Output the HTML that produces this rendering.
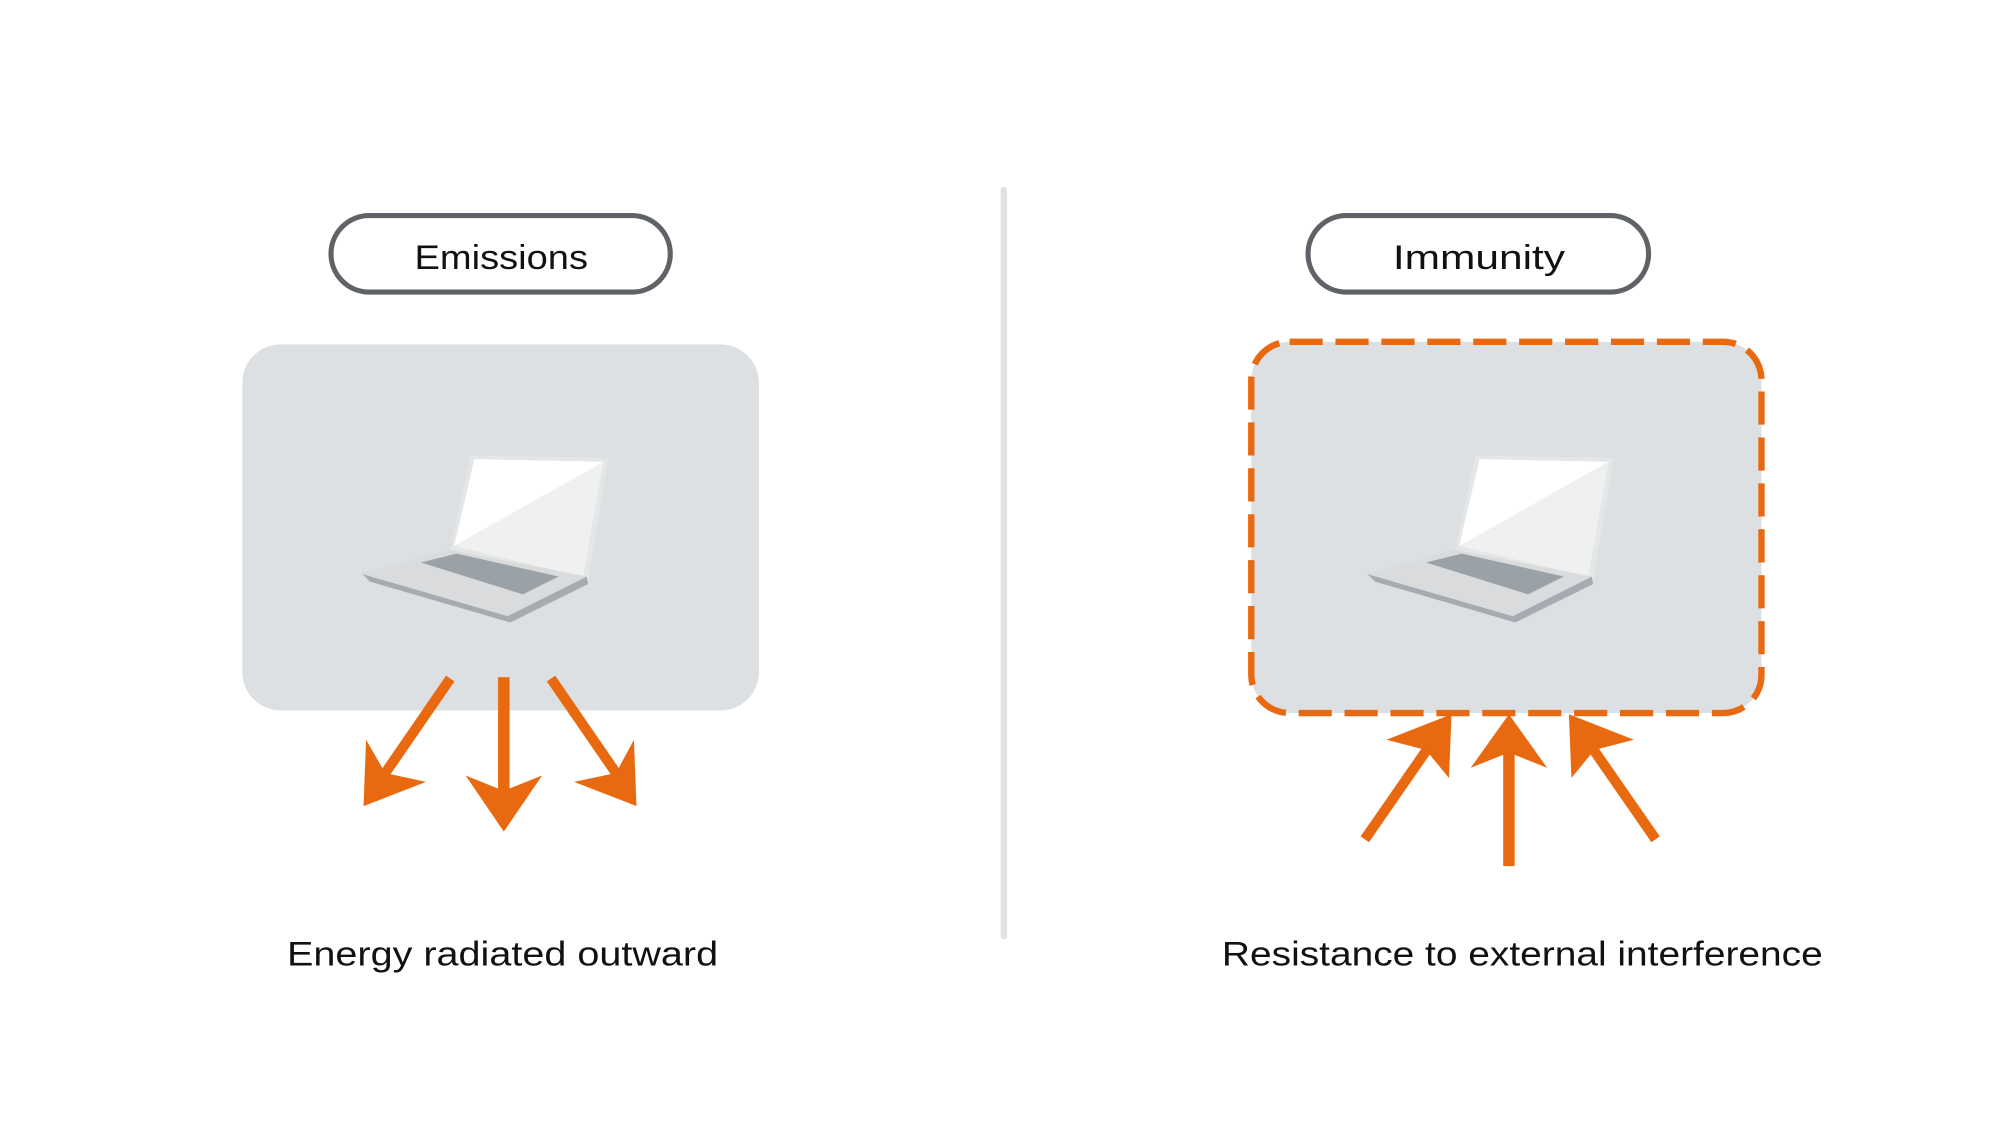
<!DOCTYPE html>
<html><head><meta charset="utf-8"><style>
html,body{margin:0;padding:0;background:#fff;}
svg{display:block;}
text{font-family:"Liberation Sans",sans-serif;fill:#111;}
</style></head><body>
<svg width="2000" height="1125" viewBox="0 0 1568 882" preserveAspectRatio="xMinYMin meet" xmlns="http://www.w3.org/2000/svg">
<defs>
<g id="laptop">
  <polygon points="369,357 477,359 461,456 353,431" fill="#e4e6e7"/>
  <polygon points="372,360 473,362 457,452 356,428" fill="#ffffff"/>
  <polygon points="473,362 457,452 356,428" fill="#eff0f0"/>
  <polygon points="284,450 290,456 400,488 461,458 460,452 398,483" fill="#a5abb0"/>
  <polygon points="284,450 352,431 460,452 398,483" fill="#d9dbdd"/>
  <polygon points="330,441 358,434 438,452 410,466" fill="#9aa2a7"/>
</g>
</defs>
<rect x="259.5" y="169" width="266" height="60" rx="30" fill="#fff" stroke="#5f6368" stroke-width="4"/>
<text x="325" y="211" font-size="27" textLength="136" lengthAdjust="spacingAndGlyphs">Emissions</text>
<rect x="1025.5" y="169" width="267" height="60" rx="30" fill="#fff" stroke="#5f6368" stroke-width="4"/>
<text x="1092" y="211" font-size="27" textLength="135" lengthAdjust="spacingAndGlyphs">Immunity</text>
<line x1="787" y1="149" x2="787" y2="734" stroke="#dfe3e2" stroke-width="5" stroke-linecap="round"/>
<rect x="190" y="270" width="405" height="287" rx="30" fill="#dde0e3"/>
<use href="#laptop"/>
<g fill="#e8690f" stroke="none">
  <line x1="353" y1="532" x2="300" y2="609" stroke="#e8690f" stroke-width="8"/>
  <polygon points="285,632 287,580 302,606 334,613"/>
  <line x1="395" y1="531" x2="395" y2="625" stroke="#e8690f" stroke-width="9"/>
  <polygon points="395,652 365,608 395,620 425,608"/>
  <line x1="432" y1="532" x2="485" y2="609" stroke="#e8690f" stroke-width="8"/>
  <polygon points="499,632 497,580 483,606 450,613"/>
</g>
<rect x="981" y="268" width="400" height="291" rx="30" fill="#dde0e3" stroke="#e8690f" stroke-width="5" stroke-dasharray="26,10"/>
<use href="#laptop" transform="translate(788,0)"/>
<g fill="#e8690f">
  <line x1="1070" y1="658" x2="1122" y2="583" stroke="#e8690f" stroke-width="8"/>
  <polygon points="1138,560 1087,580 1118,588 1136,610"/>
  <line x1="1183" y1="679" x2="1183" y2="590" stroke="#e8690f" stroke-width="9"/>
  <polygon points="1183,560 1153,602 1183,590 1213,602"/>
  <line x1="1298" y1="658" x2="1246" y2="583" stroke="#e8690f" stroke-width="8"/>
  <polygon points="1230,560 1281,580 1250,588 1232,610"/>
</g>
<text x="225" y="757" font-size="27" textLength="338" lengthAdjust="spacingAndGlyphs">Energy radiated outward</text>
<text x="958" y="757" font-size="27" textLength="471" lengthAdjust="spacingAndGlyphs">Resistance to external interference</text>
</svg>
</body></html>
